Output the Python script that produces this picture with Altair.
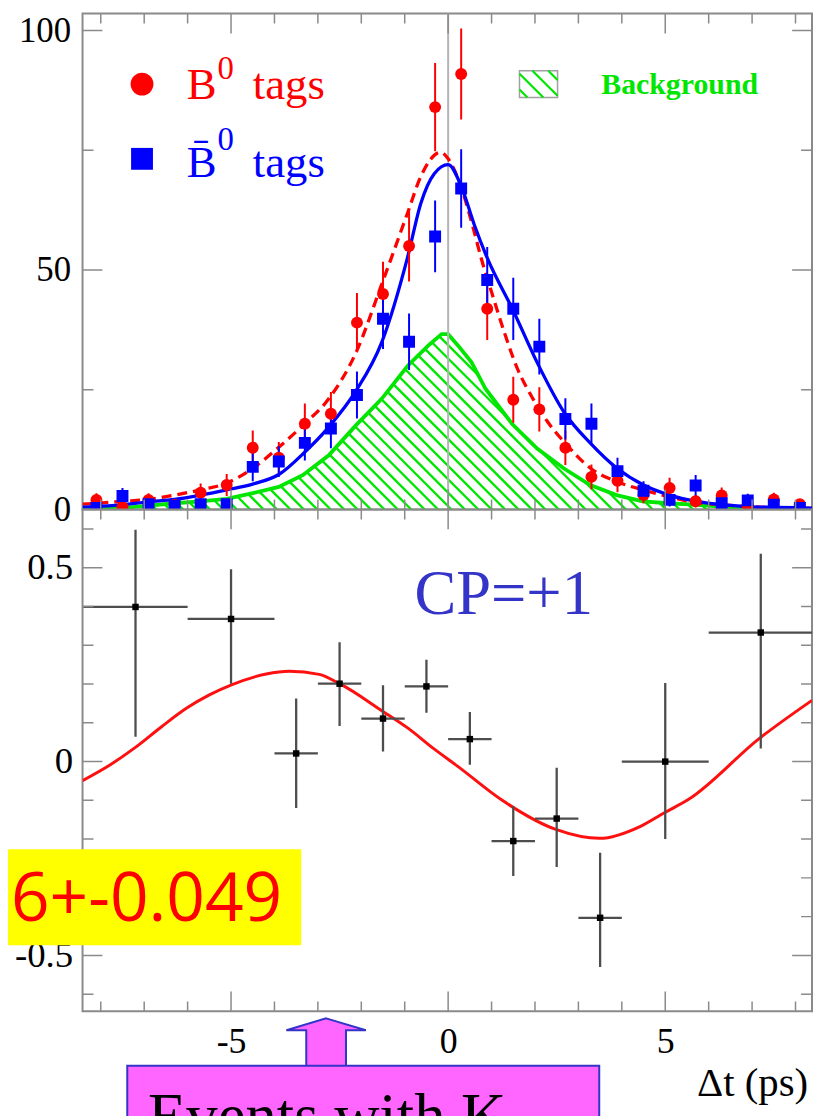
import altair as alt
import numpy as np
import pandas as pd

# ---------------- data ----------------
bin_centers = [-8.1, -7.5, -6.9, -6.3, -5.7, -5.1, -4.5, -3.9, -3.3, -2.7, -2.1, -1.5, -0.9, -0.3,
               0.3, 0.9, 1.5, 2.1, 2.7, 3.3, 3.9, 4.5, 5.1, 5.7, 6.3, 6.9, 7.5, 8.1]
b0_tags = [2.0, 0.5, 2.0, 1.0, 3.5, 5.1, 12.9, 10.8, 17.9, 20.0, 39.0, 45.0, 55.0, 84.0,
           90.9, 41.9, 22.9, 20.9, 12.9, 6.8, 6.0, 3.0, 4.5, 1.7, 2.9, 0.8, 2.1, 1.1]
b0_tags_err = [1.4, 0.7, 1.4, 1.0, 1.9, 2.3, 3.6, 3.3, 4.2, 4.5, 6.2, 6.7, 7.4, 9.2,
               9.5, 6.5, 4.8, 4.6, 3.6, 2.6, 2.4, 1.7, 2.1, 1.3, 1.7, 0.9, 1.4, 1.0]
b0bar_tags = [0.3, 2.8, 1.1, 0.8, 1.1, 1.1, 8.9, 10.0, 13.9, 16.9, 23.9, 39.8, 35.0, 57.0,
              67.0, 47.9, 41.9, 34.0, 18.9, 17.9, 8.0, 3.9, 2.0, 5.0, 1.3, 1.9, 1.0, 0.3]
b0bar_tags_err = [0.5, 1.7, 1.0, 0.9, 1.0, 1.0, 3.0, 3.2, 3.7, 4.1, 4.9, 6.3, 5.9, 7.5,
                  8.2, 6.9, 6.5, 5.8, 4.3, 4.2, 2.8, 2.0, 1.4, 2.2, 1.1, 1.4, 1.0, 0.5]

fit_b0_x = [-8.42, -8.1, -7.5, -6.9, -6.3, -5.7, -5.1, -4.5, -3.9, -3.34, -2.75, -2.12, -1.53,
            -0.93, -0.63, -0.17, 0.0, 0.31, 0.57, 0.76, 1.03, 1.30, 1.60, 1.91, 2.29, 2.67,
            3.28, 3.89, 4.48, 5.07, 5.65, 6.3, 6.9, 7.5, 8.1, 8.38]
fit_b0_y = [1.1, 1.3, 1.7, 2.1, 3.0, 4.1, 5.5, 8.6, 13.0, 17.6, 23.1, 32.8, 47.0,
            62.0, 69.5, 74.6, 73.2, 67.0, 59.0, 52.5, 44.5, 36.8, 29.3, 23.8, 18.3, 14.1,
            8.6, 5.8, 4.1, 2.7, 1.5, 1.0, 0.6, 0.4, 0.3, 0.25]

fit_b0bar_x = [-8.42, -8.1, -7.5, -6.9, -6.3, -5.7, -5.1, -4.5, -3.9, -3.3, -2.75, -2.12, -1.53,
               -0.93, -0.63, -0.32, 0.0, 0.3, 0.6, 0.9, 1.5, 2.06, 2.67, 3.28, 3.89, 4.5,
               5.1, 5.72, 6.3, 6.9, 7.5, 8.1, 8.38]
fit_b0bar_y = [0.5, 0.6, 1.0, 1.6, 2.1, 3.0, 4.1, 5.3, 7.3, 12.0, 17.2, 24.8, 34.9,
               52.8, 63.9, 70.1, 72.0, 67.5, 59.5, 52.5, 41.5, 30.5, 20.3, 13.8, 8.6, 5.1,
               3.0, 1.7, 1.0, 0.6, 0.45, 0.35, 0.3]

bkg_x = [-8.42, -7.5, -6.9, -6.3, -5.7, -5.1, -4.5, -3.9, -3.34, -2.75, -2.12, -1.53, -0.93,
         -0.46, -0.15, 0.0, 0.23, 0.54, 0.86, 1.47, 2.05, 2.66, 3.27, 3.88, 4.48, 5.07, 5.65,
         6.3, 6.9, 7.5, 8.38]
bkg_y = [0.2, 0.3, 0.8, 1.3, 1.7, 2.2, 3.4, 4.7, 7.2, 11.3, 17.6, 23.1, 30.0,
         34.2, 36.6, 36.6, 34.2, 30.7, 25.2, 17.9, 12.7, 8.6, 5.1, 3.0, 1.7, 1.3, 1.0,
         0.6, 0.2, 0.1, 0.05]

asym_x = [-7.2, -5.0, -3.5, -2.5, -1.5, -0.5, 0.5, 1.5, 2.5, 3.5, 5.0, 7.2]
asym_xlo = [-8.4, -6.0, -4.0, -3.0, -2.0, -1.0, 0.0, 1.0, 2.0, 3.0, 4.0, 6.0]
asym_xhi = [-6.0, -4.0, -3.0, -2.0, -1.0, 0.0, 1.0, 2.0, 3.0, 4.0, 6.0, 8.4]
asym_y = [0.399, 0.368, 0.021, 0.201, 0.111, 0.194, 0.058, -0.205, -0.147, -0.403, 0.0, 0.333]
asym_ylo = [0.064, 0.201, -0.12, 0.092, 0.026, 0.126, -0.008, -0.295, -0.272, -0.530, -0.2, 0.034]
asym_yhi = [0.598, 0.496, 0.163, 0.308, 0.197, 0.263, 0.128, -0.115, -0.016, -0.235, 0.203, 0.536]

asym_fit_x = [-8.42, -7.78, -7.21, -6.6, -6.02, -5.5, -4.99, -4.19, -3.66, -2.97, -2.50, -1.51,
              -0.91, -0.34, 0.23, 1.22, 2.48, 3.49, 4.43, 4.98, 5.53, 7.17, 8.38]
asym_fit_y = [-0.049, -0.008, 0.036, 0.090, 0.138, 0.172, 0.198, 0.226, 0.233, 0.225, 0.201, 0.130,
              0.085, 0.034, -0.013, -0.098, -0.175, -0.198, -0.167, -0.132, -0.098, 0.06, 0.158]

x_tick_labels = [-5, 0, 5]
x_minor_ticks = [-8, -7, -6, -4, -3, -2, -1, 1, 2, 3, 4, 6, 7, 8]
top_y_labels = [0, 50, 100]
top_y_minor = [25, 75]
bot_y_labels = [-0.5, 0, 0.5]
bot_y_minor = [-0.6, -0.4, -0.3, -0.2, -0.1, 0.1, 0.2, 0.3, 0.4, 0.6]

# ---------------- layout / style ----------------
W, H1, H2 = 734, 499, 505
XMIN, XMAX = -8.42, 8.38
Y1MIN, Y1MAX = 0.0, 103.53
Y2MIN, Y2MAX = -0.6444, 0.6505
RED, BLUE, GREEN = "#ff0000", "#0000ff", "#00e600"
FRAME = "#8a8a8a"
SERIF = "Liberation Serif"

xs = alt.Scale(domain=[XMIN, XMAX], nice=False, zero=False)
ys1 = alt.Scale(domain=[Y1MIN, Y1MAX], nice=False, zero=False)
ys2 = alt.Scale(domain=[Y2MIN, Y2MAX], nice=False, zero=False)

common_ax = dict(ticks=False, tickSize=0, domain=False, grid=False, labelFont=SERIF,
                 labelColor="black", labelFlush=False, labelOverlap=False, title=None,
                 labelExpr="toString(datum.value)")
ax_y1 = alt.Axis(values=top_y_labels, labelFontSize=35, labelPadding=12, **common_ax)
ax_x2 = alt.Axis(values=x_tick_labels, labelFontSize=36, labelPadding=13, **common_ax)
ax_y2 = alt.Axis(values=bot_y_labels, labelFontSize=37, labelPadding=10, **common_ax)


def top_xy(xf="x", yf="y"):
    return dict(x=alt.X(xf, type="quantitative", scale=xs, axis=None),
                y=alt.Y(yf, type="quantitative", scale=ys1, axis=ax_y1))


def bot_xy(xf="x", yf="y"):
    return dict(x=alt.X(xf, type="quantitative", scale=xs, axis=ax_x2),
                y=alt.Y(yf, type="quantitative", scale=ys2, axis=ax_y2))


PX_X = W / (XMAX - XMIN)
PX_Y1 = H1 / (Y1MAX - Y1MIN)


def hatch_segments(cx, cy, base, spacing_px, x_lo, x_hi):
    """45-degree '\\' hatch lines under the curve (cx, cy), down to 'base'."""
    k = PX_X / PX_Y1
    ymax = max(cy)
    reach = (ymax - base) / k
    step = spacing_px / PX_X
    segs = []
    x0 = x_lo + step * 0.5
    t = np.linspace(0, reach, 800)
    while x0 <= x_hi + reach:
        xx = x0 - t
        yy = base + k * t
        ins = (xx >= x_lo) & (xx <= x_hi) & (yy <= np.interp(xx, cx, cy))
        i, n = 0, len(t)
        while i < n:
            if ins[i]:
                j = i
                while j + 1 < n and ins[j + 1]:
                    j += 1
                if (t[j] - t[i]) * PX_X > 3:
                    segs.append((xx[i], yy[i], xx[j], yy[j]))
                i = j + 1
            else:
                i += 1
        x0 += step
    return pd.DataFrame(segs, columns=["x", "y", "x2", "y2"])


def tick_layers(xy, ymin, ymax, ymaj, ymin_t):
    rows = []
    for v in x_tick_labels:
        rows += [(v, ymin, 40), (v, ymax, 40)]
    for v in x_minor_ticks:
        rows += [(v, ymin, 20), (v, ymax, 20)]
    xdf = pd.DataFrame(rows, columns=["x", "y", "len"])
    rows = []
    for v in ymaj:
        rows += [(XMIN, v, 40), (XMAX, v, 40)]
    for v in ymin_t:
        rows += [(XMIN, v, 22), (XMAX, v, 22)]
    ydf = pd.DataFrame(rows, columns=["x", "y", "len"])
    size = alt.Size("len", type="quantitative", scale=None)
    a = alt.Chart(xdf).mark_tick(orient="vertical", thickness=1.5, color=FRAME, opacity=1,
                                 clip=True).encode(**xy(), size=size)
    b = alt.Chart(ydf).mark_tick(orient="horizontal", thickness=1.5, color=FRAME, opacity=1,
                                 clip=True).encode(**xy(), size=size)
    return [a, b]


def text_at(xy, x, y, txt, size, color, font=SERIF, align="left", weight="normal",
            baseline="alphabetic"):
    return alt.Chart(pd.DataFrame({"x": [x], "y": [y]})).mark_text(
        text=txt, font=font, fontSize=size, color=color, align=align,
        baseline=baseline, fontWeight=weight).encode(**xy())


# ---------------- top panel ----------------
pts = pd.DataFrame({"x": bin_centers, "r": b0_tags, "re": b0_tags_err,
                    "b": b0bar_tags, "be": b0bar_tags_err})
pts["r_lo"] = pts["r"] - pts["re"]
pts["r_hi"] = pts["r"] + pts["re"]
pts["b_lo"] = pts["b"] - pts["be"]
pts["b_hi"] = pts["b"] + pts["be"]

hatch_main = hatch_segments(bkg_x, bkg_y, 0.0, 13.5, XMIN, XMAX)
LB_X0, LB_X1, LB_Y0, LB_Y1 = 1.643, 2.52, 86.0, 91.6
hatch_box = hatch_segments([LB_X0, LB_X1], [LB_Y1, LB_Y1], LB_Y0, 16, LB_X0, LB_X1)

top_layers = [
    alt.Chart(hatch_main).mark_rule(color=GREEN, strokeWidth=2.4, clip=True).encode(
        **top_xy(), x2="x2", y2="y2"),
    alt.Chart(pd.DataFrame({"x": bkg_x, "y": bkg_y})).mark_line(
        color=GREEN, strokeWidth=3.8, clip=True).encode(**top_xy()),
    alt.Chart(pd.DataFrame({"x": [0.0]})).mark_rule(color="#b4b4b4", strokeWidth=2).encode(
        x=alt.X("x", type="quantitative", scale=xs, axis=None)),
    alt.Chart(pd.DataFrame({"x": fit_b0_x, "y": fit_b0_y})).mark_line(
        color=RED, strokeWidth=3.3, strokeDash=[10, 6], interpolate="monotone", clip=True).encode(
        **top_xy()),
    alt.Chart(pd.DataFrame({"x": fit_b0bar_x, "y": fit_b0bar_y})).mark_line(
        color=BLUE, strokeWidth=3.3, interpolate="monotone", clip=True).encode(**top_xy()),
    alt.Chart(pts).mark_rule(color=RED, strokeWidth=2, clip=True).encode(
        **top_xy("x", "r_lo"), y2="r_hi"),
    alt.Chart(pts).mark_rule(color=BLUE, strokeWidth=2, clip=True).encode(
        **top_xy("x", "b_lo"), y2="b_hi"),
    alt.Chart(pts).mark_point(shape="circle", filled=True, size=144, color=RED, opacity=1,
                              clip=True).encode(**top_xy("x", "r")),
    alt.Chart(pts).mark_point(shape="square", filled=True, size=144, color=BLUE, opacity=1,
                              clip=True).encode(**top_xy("x", "b")),
    # legend
    alt.Chart(pd.DataFrame({"x": [-7.05], "y": [88.8]})).mark_point(
        shape="circle", filled=True, size=529, color=RED, opacity=1).encode(**top_xy()),
    alt.Chart(pd.DataFrame({"x": [-7.05], "y": [73.2]})).mark_point(
        shape="square", filled=True, size=484, color=BLUE, opacity=1).encode(**top_xy()),
    text_at(top_xy, -6.02, 85.7, "B", 45, RED),
    text_at(top_xy, -5.31, 89.8, "0", 33, RED),
    text_at(top_xy, -4.50, 85.7, "tags", 45, RED),
    text_at(top_xy, -6.02, 69.5, "B\u0304", 45, BLUE),
    text_at(top_xy, -5.31, 75.1, "0", 33, BLUE),
    text_at(top_xy, -4.50, 69.5, "tags", 45, BLUE),
    alt.Chart(pd.DataFrame({"x": [LB_X0], "x2": [LB_X1], "y": [LB_Y0], "y2": [LB_Y1]})).mark_rect(
        fill="white", stroke="#a0a0a0", strokeWidth=1.5).encode(**top_xy(), x2="x2", y2="y2"),
    alt.Chart(hatch_box).mark_rule(color=GREEN, strokeWidth=2.2).encode(
        **top_xy(), x2="x2", y2="y2"),
    text_at(top_xy, 3.527, 86.7, "Background", 30, GREEN, weight="bold"),
] + tick_layers(top_xy, Y1MIN, Y1MAX, top_y_labels, top_y_minor)

top = alt.layer(*top_layers).properties(width=W, height=H1)

# ---------------- bottom panel ----------------
asym = pd.DataFrame({"x": asym_x, "xlo": asym_xlo, "xhi": asym_xhi, "y": asym_y,
                     "ylo": asym_ylo, "yhi": asym_yhi})
ARROW = "M0,-0.6 L1,-0.3 L0.5,-0.3 L0.5,0.6 L-0.5,0.6 L-0.5,-0.3 L-1,-0.3 Z"

bot_layers = [
    alt.Chart(pd.DataFrame({"x": asym_fit_x, "y": asym_fit_y})).mark_line(
        color="#ff1010", strokeWidth=3, interpolate="monotone", clip=True).encode(**bot_xy()),
    alt.Chart(asym).mark_rule(color="#4d4d4d", strokeWidth=2.3, clip=True).encode(
        **bot_xy("x", "ylo"), y2="yhi"),
    alt.Chart(asym).mark_rule(color="#4d4d4d", strokeWidth=2.3, clip=True).encode(
        **bot_xy("xlo", "y"), x2="xhi"),
    alt.Chart(asym).mark_point(shape="square", filled=True, size=42, color="black",
                               opacity=1).encode(**bot_xy()),
    text_at(bot_xy, 1.28, 0.381, "CP=+1", 63, "#3434c8", align="center"),
] + tick_layers(bot_xy, Y2MIN, Y2MAX, bot_y_labels, bot_y_minor) + [
    alt.Chart(pd.DataFrame({"x": [-11.67], "x2": [-3.385], "y": [-0.474], "y2": [-0.2264]})).mark_rect(
        fill="#ffff00").encode(**bot_xy(), x2="x2", y2="y2"),
    text_at(bot_xy, -3.82, -0.410, "36+-0.049", 68, RED, font="Open Sans", align="right"),
    alt.Chart(pd.DataFrame({"x": [-2.81], "y": [-0.724]})).mark_point(
        shape=ARROW, size=6400, filled=True, fill="#ff66ff", stroke="#3434c8",
        strokeWidth=2, opacity=1).encode(**bot_xy()),
    alt.Chart(pd.DataFrame({"x": [-7.39], "x2": [3.48], "y": [-1.02], "y2": [-0.785]})).mark_rect(
        fill="#ff66ff", stroke="#3434c8", strokeWidth=2).encode(**bot_xy(), x2="x2", y2="y2"),
    text_at(bot_xy, -6.91, -0.968, "Events with K", 63, "black"),
    text_at(bot_xy, 8.29, -0.862, "\u0394t (ps)", 41, "black", align="right"),
]

bottom = alt.layer(*bot_layers).properties(width=W, height=H2)

chart = alt.vconcat(top, bottom, spacing=0, bounds="flush").properties(
    background="white",
    padding={"left": -68, "top": 0, "right": 0, "bottom": 0},
).configure_view(stroke=FRAME, strokeWidth=2)

chart.save("out.html", embed_options={"renderer": "svg", "actions": False})
